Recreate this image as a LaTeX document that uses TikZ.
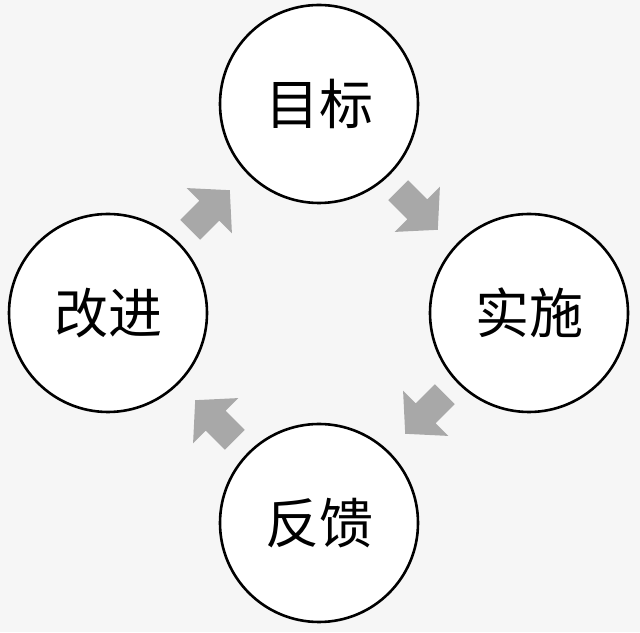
\documentclass[tikz,border=0pt]{standalone}
\usepackage{fontspec}
\newfontfamily\cjk{Noto Sans CJK SC}
\definecolor{bg}{HTML}{F6F6F6}
\definecolor{arr}{HTML}{A8A8A8}
\begin{document}
\begin{tikzpicture}[x=1pt,y=1pt,
  stage/.style={circle,draw=black,line width=2.6pt,fill=white,minimum size=198pt,inner sep=0pt,font=\cjk\fontsize{54}{54}\selectfont},
  blockarrow/.pic={\fill[arr] (-28,14)--(-1,14)--(-1,32)--(28,0)--(-1,-32)--(-1,-14)--(-28,-14)--cycle;}]
\fill[bg] (0,0) rectangle (640,632);
\useasboundingbox (0,0) rectangle (640,632);
\node[stage] (goal) at (319,528) {目标};
\node[stage] (impl) at (529,319) {实施};
\node[stage] (fb) at (319,109) {反馈};
\node[stage] (imp) at (108,319) {改进};
\pic[rotate=-45] at (418,422) {blockarrow};
\pic[rotate=-135] at (425,218) {blockarrow};
\pic[rotate=135] at (215,212) {blockarrow};
\pic[rotate=45] at (210,422) {blockarrow};
\end{tikzpicture}
\end{document}
